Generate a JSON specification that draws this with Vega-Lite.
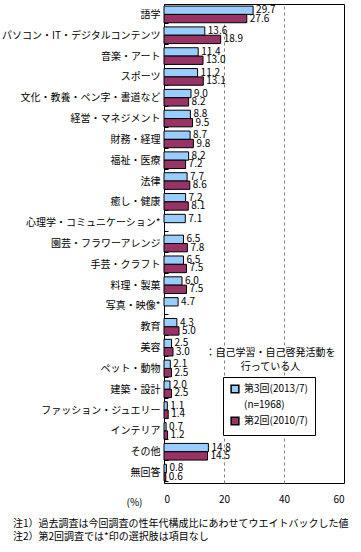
{
  "$schema": "https://vega.github.io/schema/vega-lite/v6.json",
  "width": 180,
  "height": 479,
  "autosize": "none",
  "padding": {"left": 164, "top": 4, "right": 17, "bottom": 69},
  "background": "white",
  "config": {
    "font": "Noto Sans CJK JP",
    "view": {"stroke": "black", "strokeWidth": 1},
    "axis": {"labelFontSize": 10, "labelColor": "black", "titleFontWeight": "normal", "titleColor": "black"}
  },
  "title": {
    "text": ["注1）過去調査は今回調査の性年代構成比にあわせてウエイトバックした値", "注2）第2回調査では*印の選択肢は項目なし"],
    "orient": "bottom",
    "anchor": "start",
    "frame": "group",
    "dx": -151,
    "offset": 12,
    "fontSize": 10,
    "fontWeight": "normal",
    "color": "black",
    "lineHeight": 13
  },
  "data": {
    "values": [
      {"cat": "語学", "series": "第3回(2013/7)", "value": 29.7},
      {"cat": "語学", "series": "第2回(2010/7)", "value": 27.6},
      {"cat": "パソコン・IT・デジタルコンテンツ", "series": "第3回(2013/7)", "value": 13.6},
      {"cat": "パソコン・IT・デジタルコンテンツ", "series": "第2回(2010/7)", "value": 18.9},
      {"cat": "音楽・アート", "series": "第3回(2013/7)", "value": 11.4},
      {"cat": "音楽・アート", "series": "第2回(2010/7)", "value": 13.0},
      {"cat": "スポーツ", "series": "第3回(2013/7)", "value": 11.2},
      {"cat": "スポーツ", "series": "第2回(2010/7)", "value": 13.1},
      {"cat": "文化・教養・ペン字・書道など", "series": "第3回(2013/7)", "value": 9.0},
      {"cat": "文化・教養・ペン字・書道など", "series": "第2回(2010/7)", "value": 8.2},
      {"cat": "経営・マネジメント", "series": "第3回(2013/7)", "value": 8.8},
      {"cat": "経営・マネジメント", "series": "第2回(2010/7)", "value": 9.5},
      {"cat": "財務・経理", "series": "第3回(2013/7)", "value": 8.7},
      {"cat": "財務・経理", "series": "第2回(2010/7)", "value": 9.8},
      {"cat": "福祉・医療", "series": "第3回(2013/7)", "value": 8.2},
      {"cat": "福祉・医療", "series": "第2回(2010/7)", "value": 7.2},
      {"cat": "法律", "series": "第3回(2013/7)", "value": 7.7},
      {"cat": "法律", "series": "第2回(2010/7)", "value": 8.6},
      {"cat": "癒し・健康", "series": "第3回(2013/7)", "value": 7.2},
      {"cat": "癒し・健康", "series": "第2回(2010/7)", "value": 8.1},
      {"cat": "心理学・コミュニケーション*", "series": "第3回(2013/7)", "value": 7.1},
      {"cat": "園芸・フラワーアレンジ", "series": "第3回(2013/7)", "value": 6.5},
      {"cat": "園芸・フラワーアレンジ", "series": "第2回(2010/7)", "value": 7.8},
      {"cat": "手芸・クラフト", "series": "第3回(2013/7)", "value": 6.5},
      {"cat": "手芸・クラフト", "series": "第2回(2010/7)", "value": 7.5},
      {"cat": "料理・製菓", "series": "第3回(2013/7)", "value": 6.0},
      {"cat": "料理・製菓", "series": "第2回(2010/7)", "value": 7.5},
      {"cat": "写真・映像*", "series": "第3回(2013/7)", "value": 4.7},
      {"cat": "教育", "series": "第3回(2013/7)", "value": 4.3},
      {"cat": "教育", "series": "第2回(2010/7)", "value": 5.0},
      {"cat": "美容", "series": "第3回(2013/7)", "value": 2.5},
      {"cat": "美容", "series": "第2回(2010/7)", "value": 3.0},
      {"cat": "ペット・動物", "series": "第3回(2013/7)", "value": 2.1},
      {"cat": "ペット・動物", "series": "第2回(2010/7)", "value": 2.5},
      {"cat": "建築・設計", "series": "第3回(2013/7)", "value": 2.0},
      {"cat": "建築・設計", "series": "第2回(2010/7)", "value": 2.5},
      {"cat": "ファッション・ジュエリー", "series": "第3回(2013/7)", "value": 1.1},
      {"cat": "ファッション・ジュエリー", "series": "第2回(2010/7)", "value": 1.4},
      {"cat": "インテリア", "series": "第3回(2013/7)", "value": 0.7},
      {"cat": "インテリア", "series": "第2回(2010/7)", "value": 1.2},
      {"cat": "その他", "series": "第3回(2013/7)", "value": 14.8},
      {"cat": "その他", "series": "第2回(2010/7)", "value": 14.5},
      {"cat": "無回答", "series": "第3回(2013/7)", "value": 0.8},
      {"cat": "無回答", "series": "第2回(2010/7)", "value": 0.6}
    ]
  },
  "encoding": {
    "y": {
      "field": "cat",
      "type": "nominal",
      "sort": null,
      "title": null,
      "scale": {"paddingInner": 0.2, "paddingOuter": 0.1},
      "axis": {"labelPadding": 8, "ticks": true, "tickSize": -4, "tickBand": "extent", "tickColor": "black", "domainColor": "black", "labelFontSize": 10, "labelLimit": 200}
    }
  },
  "layer": [
    {
      "mark": {"type": "bar", "strokeWidth": 1},
      "encoding": {
        "x": {
          "field": "value",
          "type": "quantitative",
          "scale": {"domain": [0, 60], "nice": false},
          "title": "(%)",
          "axis": {
            "values": [0, 20, 40, 60],
            "ticks": false,
            "domain": false,
            "labelPadding": 11,
            "grid": true,
            "gridDash": [3, 3],
            "gridColor": {"condition": {"test": "datum.value == 0 || datum.value == 60", "value": "transparent"}, "value": "#808080"},
            "titleX": -30,
            "titleY": 19,
            "titleAlign": "center",
            "titleBaseline": "middle",
            "titleFontSize": 10
          }
        },
        "yOffset": {"field": "series", "type": "nominal", "scale": {"domain": ["第3回(2013/7)", "第2回(2010/7)"], "paddingInner": 0}},
        "color": {
          "field": "series",
          "type": "nominal",
          "scale": {"domain": ["第3回(2013/7)", "(n=1968)", "第2回(2010/7)"], "range": ["#99CCFF", "transparent", "#993366"]},
          "legend": {
            "title": null,
            "orient": "none",
            "legendX": 59,
            "legendY": 373,
            "strokeColor": "black",
            "fillColor": "white",
            "padding": 7,
            "symbolType": "square",
            "symbolSize": 60,
            "labelFontSize": 10,
            "labelColor": "black",
            "rowPadding": 2
          }
        },
        "stroke": {
          "field": "series",
          "type": "nominal",
          "scale": {"domain": ["第3回(2013/7)", "(n=1968)", "第2回(2010/7)"], "range": ["black", "transparent", "black"]},
          "legend": {"title": null}
        }
      }
    },
    {
      "mark": {"type": "text", "align": "left", "baseline": "middle", "dx": 3, "fontSize": 10, "color": "black"},
      "encoding": {
        "x": {"field": "value", "type": "quantitative"},
        "yOffset": {"field": "series", "type": "nominal", "scale": {"domain": ["第3回(2013/7)", "第2回(2010/7)"], "paddingInner": 0}},
        "text": {"field": "value", "type": "quantitative", "format": ".1f"}
      }
    },
    {
      "data": {"values": [{"cat": "美容", "x": 35.5}]},
      "mark": {"type": "text", "align": "center", "baseline": "top", "fontSize": 10, "color": "black", "lineHeight": 14},
      "encoding": {
        "x": {"field": "x", "type": "quantitative"},
        "text": {"value": ["：自己学習・自己啓発活動を", "行っている人"]}
      }
    }
  ]
}
